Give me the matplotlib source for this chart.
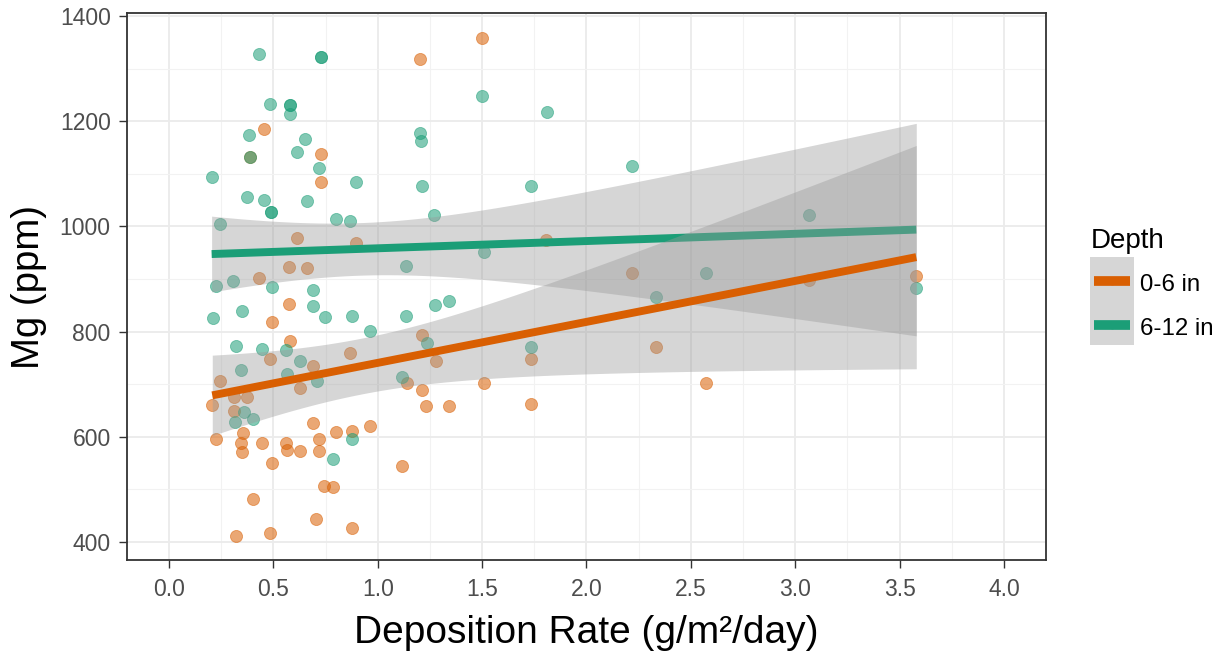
import numpy as np
import matplotlib
matplotlib.use("Agg")
import matplotlib.pyplot as plt
from matplotlib.patches import Rectangle
from matplotlib.lines import Line2D

# ---- data ----
shallow_x = [0.456, 0.387, 0.727, 0.727, 0.615, 0.894, 0.577, 0.662, 0.429, 0.577,
             0.494, 0.578, 0.486, 0.869, 0.690, 0.244, 0.625, 0.311, 0.375, 0.207,
             0.311, 0.690, 0.800, 0.877, 0.961, 0.223, 0.354, 0.343, 0.351, 0.446,
             0.561, 0.566, 0.626, 0.717, 0.717, 0.494, 0.744, 0.786, 0.402, 0.706,
             0.877, 0.319, 0.483, 1.203, 1.501, 1.805, 2.218, 1.211, 1.278, 1.734,
             1.140, 1.211, 1.509, 1.232, 1.342, 1.734, 1.116, 3.067, 3.580, 2.331,
             2.574]
shallow_y = [1185, 1132, 1137, 1084, 977, 969, 922, 920, 901, 853,
             818, 782, 748, 760, 735, 706, 692, 675, 676, 661,
             650, 626, 610, 612, 621, 596, 607, 588, 572, 588,
             589, 575, 573, 596, 573, 551, 507, 504, 482, 444,
             427, 411, 418, 1318, 1358, 974, 911, 794, 744, 748,
             702, 689, 703, 659, 659, 662, 544, 898, 906, 770,
             703]

deep_x = [0.430, 0.728, 0.728, 0.483, 0.578, 0.578, 0.578, 0.382, 0.653, 0.387,
          0.614, 0.719, 0.896, 0.204, 0.375, 0.457, 0.660, 0.489, 0.489, 0.800,
          0.869, 0.244, 0.308, 0.223, 0.494, 0.690, 0.690, 0.351, 0.212, 0.746,
          0.877, 0.961, 0.319, 0.446, 0.558, 0.625, 0.343, 0.566, 0.709, 0.359,
          0.315, 0.402, 0.877, 0.784, 1.501, 1.809, 1.203, 1.209, 1.211, 1.734,
          2.218, 1.267, 1.136, 1.509, 1.136, 1.275, 1.342, 1.235, 1.734, 1.116,
          3.067, 2.574, 2.331, 3.580]
deep_y = [1327, 1321, 1321, 1232, 1231, 1231, 1213, 1173, 1166, 1132,
          1141, 1111, 1084, 1093, 1056, 1051, 1048, 1027, 1027, 1014,
          1011, 1004, 897, 887, 885, 879, 849, 840, 826, 828,
          830, 802, 773, 767, 765, 744, 727, 719, 707, 647,
          629, 634, 596, 558, 1248, 1218, 1177, 1163, 1077, 1077,
          1115, 1022, 925, 951, 830, 851, 858, 778, 770, 714,
          1022, 911, 866, 883]

groups = ["0-6 in", "6-12 in"]
colors = {"0-6 in": "#D95F02", "6-12 in": "#1B9E77"}
xticks = [0.0, 0.5, 1.0, 1.5, 2.0, 2.5, 3.0, 3.5, 4.0]
yticks = [400, 600, 800, 1000, 1200, 1400]

TCRIT = 2.0  # ~95% two-sided t quantile for ~60 df

def lm_band(x, y, n_out=80):
    x = np.asarray(x, float); y = np.asarray(y, float)
    n = len(x)
    b1, b0 = np.polyfit(x, y, 1)
    resid = y - (b0 + b1 * x)
    s = np.sqrt(np.sum(resid ** 2) / (n - 2))
    xm = x.mean(); sxx = np.sum((x - xm) ** 2)
    xs = np.linspace(x.min(), x.max(), n_out)
    fit = b0 + b1 * xs
    se = s * np.sqrt(1.0 / n + (xs - xm) ** 2 / sxx)
    return xs, fit, fit - TCRIT * se, fit + TCRIT * se

plt.rcParams["font.family"] = ["Liberation Sans", "DejaVu Sans"]
W, H = 1223, 651
fig = plt.figure(figsize=(W / 100, H / 100), dpi=100)
ax = fig.add_axes([0.1041, 0.1398, 0.7509, 0.8398])

data = {"0-6 in": (shallow_x, shallow_y), "6-12 in": (deep_x, deep_y)}

LW = 5.7
# points
for g in groups:
    gx, gy = data[g]
    ax.scatter(gx, gy, s=76, color=colors[g], alpha=0.55, edgecolors=colors[g],
               linewidths=0.6, zorder=2)

# smooths (green drawn first, orange on top as in the reference)
for g in ["6-12 in", "0-6 in"]:
    gx, gy = data[g]
    xs, fit, lo, hi = lm_band(gx, gy)
    ax.fill_between(xs, lo, hi, color="#999999", alpha=0.4, linewidth=0, zorder=3)
    ax.plot(xs, fit, color=colors[g], linewidth=LW, solid_capstyle="butt", zorder=3)

ax.set_xlim(-0.2, 4.2)
ax.set_ylim(366, 1405)
ax.set_xticks(xticks)
ax.set_xticklabels([f"{t:.1f}" for t in xticks])
ax.set_yticks(yticks)
ax.set_xticks(np.arange(0.25, 4.0, 0.5), minor=True)
ax.set_yticks(np.arange(500, 1400, 200), minor=True)
ax.grid(which="major", color="#EBEBEB", linewidth=1.3, zorder=0)
ax.grid(which="minor", color="#F2F2F2", linewidth=0.8, zorder=0)
ax.set_axisbelow(True)
ax.tick_params(which="major", length=5.5, width=1.0, color="#333333",
               labelsize=16.5, labelcolor="#4D4D4D")
ax.tick_params(axis="x", which="major", pad=7.5)
ax.tick_params(axis="y", which="major", pad=6.5)
ax.tick_params(which="minor", length=0)
for sp in ax.spines.values():
    sp.set_color("#333333"); sp.set_linewidth(1.3)

ax.set_xlabel("Deposition Rate (g/m²/day)", fontsize=28, color="black", labelpad=10)
ax.set_ylabel("Mg (ppm)", fontsize=27.5, color="black", labelpad=9)

# legend (drawn manually, ggplot style: grey key background, line + point)
def fx(px):
    return px / W

def fy(py):
    return 1 - py / H

fig.text(fx(1091), fy(248), "Depth", fontsize=20, color="black",
         ha="left", va="baseline")
key_top, key_h, key_left, key_w = 257, 44, 1090, 44
for i, g in enumerate(groups):
    top = key_top + i * key_h
    fig.add_artist(Rectangle((fx(key_left), fy(top + key_h)), key_w / W, key_h / H,
                             transform=fig.transFigure, facecolor="#D6D6D6",
                             edgecolor="none"))
    cy = top + key_h / 2 + 2
    fig.add_artist(Line2D([fx(key_left + 4), fx(key_left + key_w - 4)], [fy(cy), fy(cy)],
                          transform=fig.transFigure, color=colors[g], linewidth=7.0,
                          solid_capstyle="butt"))
    fig.add_artist(Line2D([fx(key_left + key_w / 2)], [fy(cy)], transform=fig.transFigure,
                          marker="o", markersize=5, color=colors[g],
                          markeredgecolor=colors[g], markeredgewidth=0.5, alpha=0.9))
    fig.text(fx(1140), fy(cy + 4), g, fontsize=17.3, color="black",
             ha="left", va="center")

fig.savefig("out.png", dpi=100)
